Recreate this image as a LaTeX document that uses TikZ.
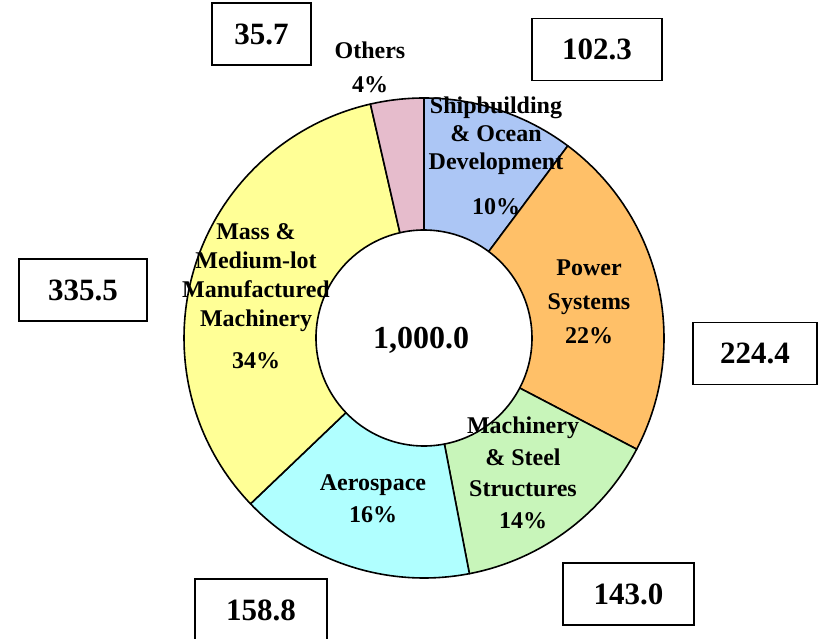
\documentclass[tikz,border=0pt]{standalone}
\usepackage{fontspec}
\setmainfont{Liberation Serif}
\usepackage{tikz}
\usetikzlibrary{calc,positioning}

\definecolor{othersfill}{RGB}{230,188,204}
\definecolor{shipfill}{RGB}{172,198,245}
\definecolor{powerfill}{RGB}{255,192,104}
\definecolor{machfill}{RGB}{200,245,186}
\definecolor{aerofill}{RGB}{176,255,255}
\definecolor{massfill}{RGB}{255,255,150}

\tikzset{
  valbox/.style={draw, line width=1.6pt, minimum height=62pt, inner sep=0pt,
    font=\fontsize{31}{31}\selectfont\bfseries},
  slicelabel/.style={align=center, inner sep=0pt}
}

\begin{document}
\begin{tikzpicture}[x=1pt,y=1pt]
    \useasboundingbox (0,0) rectangle (819,638);
    \coordinate (c) at (424,300);

    % ring segments, clockwise from the top
    \foreach \a/\b/\col in {90/53.2/shipfill, 53.2/-27.6/powerfill,
        -27.6/-79.1/machfill, -79.1/-136.3/aerofill,
        -136.3/-257.1/massfill, -257.1/-270/othersfill}
    {
        \filldraw[fill=\col, line width=1.6pt, line join=round]
            ($(c)+(\a:240pt)$) arc[start angle=\a, end angle=\b, radius=240pt]
            -- ($(c)+(\b:108pt)$) arc[start angle=\b, end angle=\a, radius=108pt]
            -- cycle;
    }
    \node[font=\fontsize{32}{32}\selectfont\bfseries] (total) at (421,298) {1,000.0};

    % slice labels
    \node[slicelabel, font=\fontsize{24}{34}\selectfont\bfseries] (others) at (370,571) {Others\\4\%};
    \node[slicelabel, font=\fontsize{24}{28}\selectfont\bfseries] (ship) at (496,482) {Shipbuilding\\\& Ocean\\Development\\[17pt]10\%};
    \node[slicelabel, font=\fontsize{24}{34}\selectfont\bfseries] (power) at (589,336) {Power\\Systems\\22\%};
    \node[slicelabel, font=\fontsize{24}{31.5}\selectfont\bfseries] (mach) at (523,165) {Machinery\\\& Steel\\Structures\\14\%};
    \node[slicelabel, font=\fontsize{24}{32}\selectfont\bfseries] (aero) at (373,139) {Aerospace\\16\%};
    \node[slicelabel, font=\fontsize{24}{29}\selectfont\bfseries] (mass) at (256,342) {Mass \&\\Medium-lot\\Manufactured\\Machinery\\[13pt]34\%};

    % value boxes
    \node[valbox, minimum width=99pt] (v-others) at (261.5,604) {35.7};
    \node[valbox, minimum width=130pt] (v-ship) at (597,588.5) {102.3};
    \node[valbox, minimum width=124pt] (v-power) at (755,284.5) {224.4};
    \node[valbox, minimum width=131pt] (v-mach) at (628.5,44) {143.0};
    \node[valbox, minimum width=132pt] (v-aero) at (261,28) {158.8};
    \node[valbox, minimum width=128pt] (v-mass) at (83,348) {335.5};
\end{tikzpicture}
\end{document}
